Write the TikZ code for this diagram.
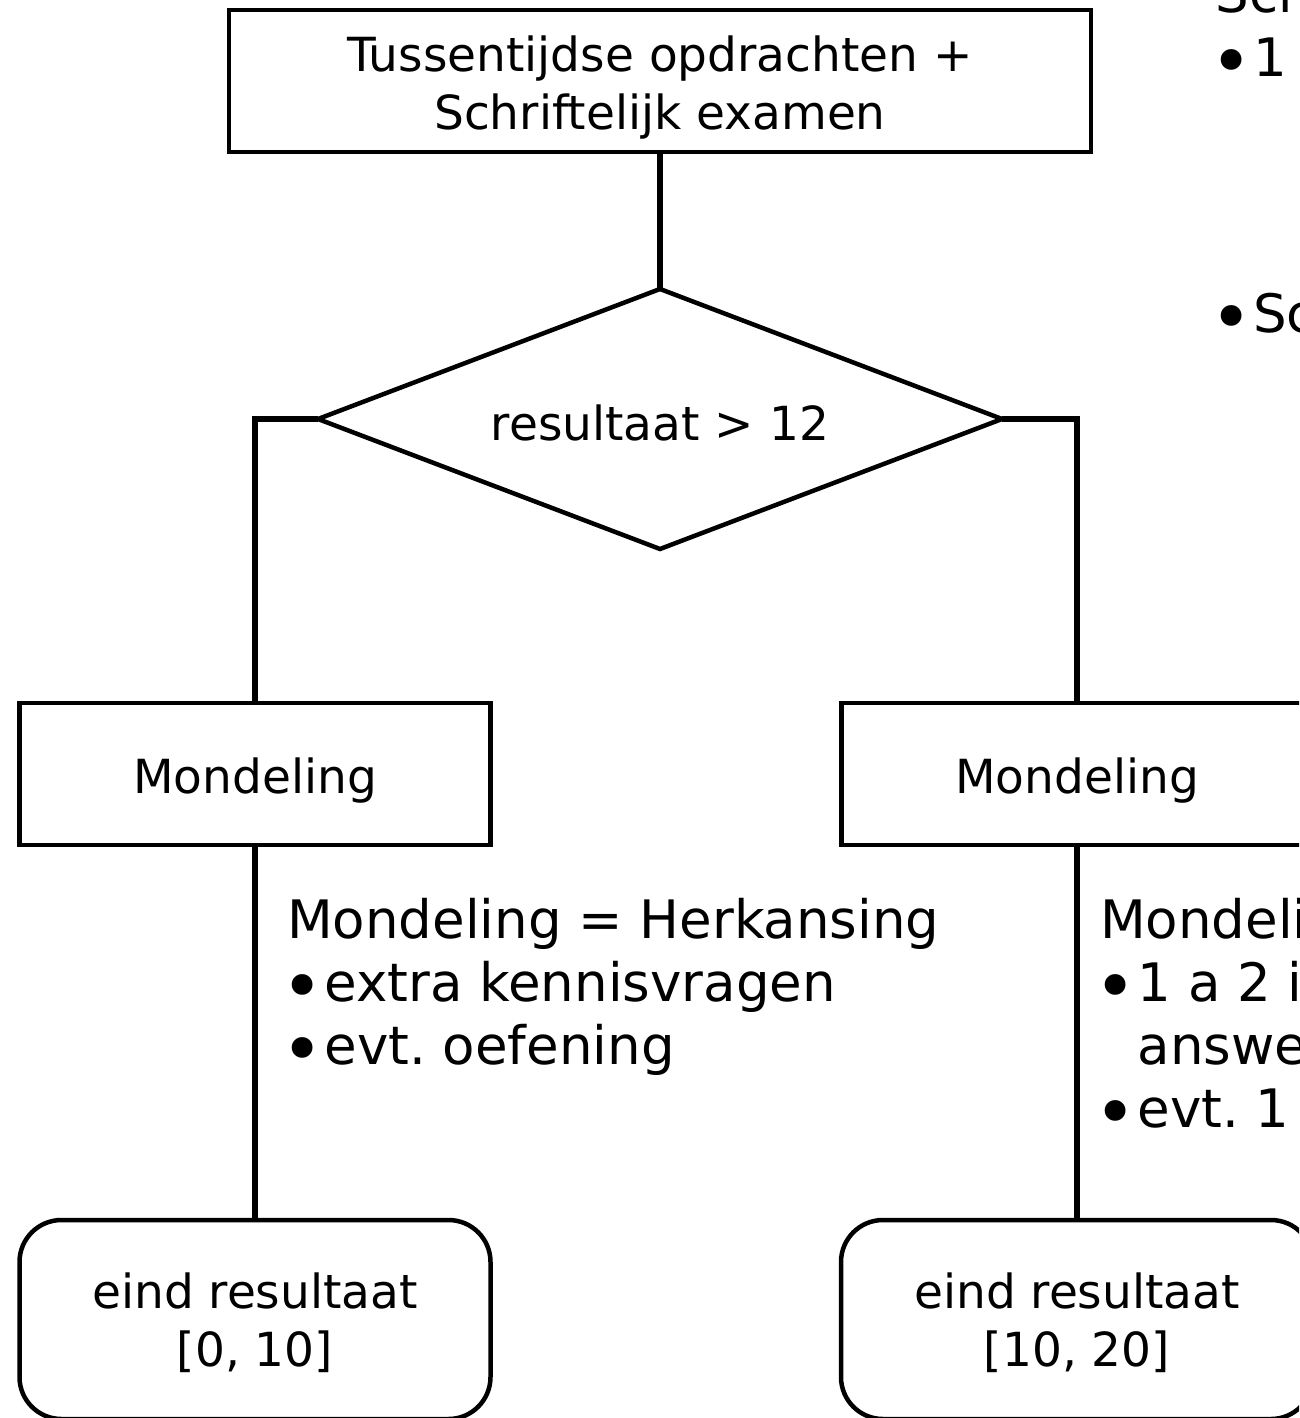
\documentclass[tikz,border=0pt]{standalone}
\usepackage{fontspec}
\setmainfont{DejaVu Sans}
\usetikzlibrary{shapes.geometric}
\frenchspacing
\newcommand{\ctext}[2]{\raisebox{#1}[0pt][0pt]{\begin{tabular}[t]{@{}c@{}}#2\end{tabular}}}
\newcommand{\bul}{\makebox[37.5pt][l]{\hspace*{-5.5pt}\raisebox{-10pt}[0pt][0pt]{\scalebox{1.35}{\textbullet}}}}
\newcommand{\ltext}[1]{\begin{tabular}[t]{@{}l@{}l@{}}#1\end{tabular}}
\newcommand{\first}[1]{\multicolumn{2}{@{}l@{}}{#1}}
\begin{document}
\begin{tikzpicture}[x=1pt,y=-1pt,
  txt/.style={font=\fontsize{47}{58}\selectfont, inner sep=0pt, outer sep=0pt},
  listtxt/.style={font=\fontsize{53}{63}\selectfont, inner sep=0pt, outer sep=0pt, anchor=base west},
  boxnode/.style={txt, draw, line width=4.5pt, rectangle},
  endnode/.style={boxnode, rounded corners=42pt},
  decnode/.style={txt, draw, line width=4.5pt, diamond, aspect=2.63},
  conn/.style={line width=6.5pt}]
\useasboundingbox (0,0) rectangle (1299,1418);
\clip (0,0) rectangle (1299,1418);
\fill[white] (0,0) rectangle (1299,1418);

\node[boxnode, minimum width=862pt, minimum height=142pt] (top) at (660,81)
  {\ctext{9pt}{Tussentijdse opdrachten +\\Schriftelijk examen}};
\node[decnode, minimum width=684pt, minimum height=260pt] (dec) at (660,419)
  {\ctext{-21pt}{resultaat > 12}};
\node[boxnode, minimum width=471pt, minimum height=142pt] (mL) at (255,774)
  {\ctext{-19pt}{Mondeling}};
\node[boxnode, minimum width=471pt, minimum height=142pt] (mR) at (1077,774)
  {\ctext{-19pt}{Mondeling}};
\node[endnode, minimum width=471pt, minimum height=199pt] (eL) at (255,1319.5)
  {\ctext{11.5pt}{eind resultaat\\{}[0, 10]}};
\node[endnode, minimum width=472pt, minimum height=199pt] (eR) at (1077,1319.5)
  {\ctext{11.5pt}{eind resultaat\\{}[10, 20]}};

\draw[conn] (top.south) -- (dec.north);
\draw[conn] (dec.west) -| (mL.north);
\draw[conn] (dec.east) -| (mR.north);
\draw[conn] (mL.south) -- (eL.north);
\draw[conn] (mR.south) -- (eR.north);

\node[listtxt] (noteL) at (287,938)
  {\ltext{\first{Mondeling = Herkansing}\\ \bul & extra kennisvragen\\ \bul & evt. oefening}};
\node[listtxt] (noteR) at (1100,938)
  {\ltext{\first{Mondeling}\\ \bul & 1 a 2 i\\ & answe\\ \bul & evt. 1}};
\node[listtxt, font=\fontsize{53}{64}\selectfont] (noteT) at (1215.5,13)
  {\ltext{\first{Sch}\\ \bul & 1\\ & \\ & \\ & \\ \bul & Sc}};
\end{tikzpicture}
\end{document}
